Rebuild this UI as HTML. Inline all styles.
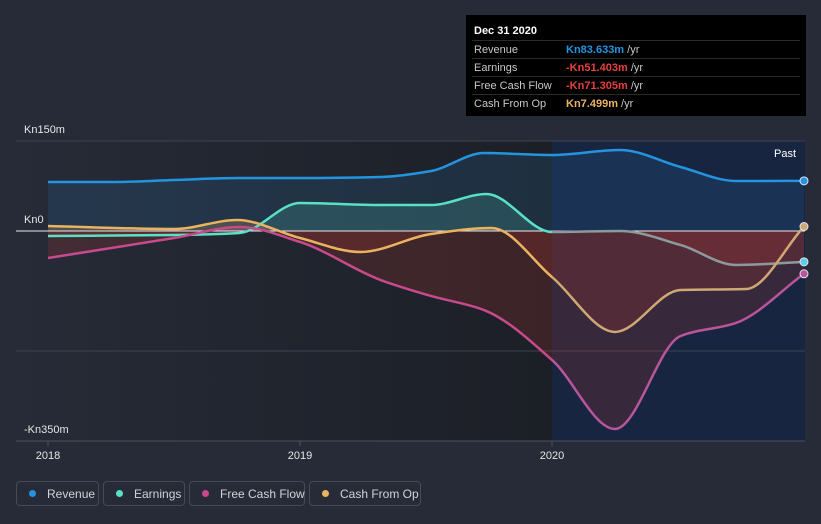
<!DOCTYPE html>
<html><head><meta charset="utf-8"><style>
body{margin:0;background:#262b37;width:821px;height:524px;overflow:hidden;font-family:"Liberation Sans",sans-serif}
svg{position:absolute;left:0;top:0}
.tt{position:absolute;left:466px;top:15px;width:340px;height:101px;background:#000;color:#c8c8c8;font-size:11px}
.tt .h{color:#fff;font-weight:bold;font-size:11px;padding:10px 0 0 8px;height:15px}
.tt .r{display:flex;height:17px;align-items:center;border-top:1px solid #2a2a2a;margin:0 6px 0 6px;padding-left:2px}
.tt .r span:first-child{width:92px}
.tt b{font-weight:bold}
.leg{position:absolute;top:481px;height:25px;border:1px solid #444b58;border-radius:4px;color:#d0d4da;font-size:12px;display:flex;align-items:center;box-sizing:border-box;padding-left:12px;white-space:nowrap}
.leg i{display:inline-block;width:7px;height:7px;border-radius:50%;margin-right:11px;flex:none}
</style></head><body>
<svg width="821" height="524">
<defs>
<clipPath id="above"><rect x="0" y="0" width="821" height="231"/></clipPath>
<clipPath id="below"><rect x="0" y="231" width="821" height="300"/></clipPath>
<clipPath id="pre"><rect x="0" y="0" width="552" height="524"/></clipPath>
<clipPath id="post"><rect x="552" y="0" width="300" height="524"/></clipPath>
<linearGradient id="bg" x1="0" x2="1"><stop offset="0" stop-color="#262b37"/><stop offset="1" stop-color="#1c1f26"/></linearGradient>
</defs>
<rect x="16" y="141" width="536" height="300" fill="url(#bg)"/>
<rect x="552" y="141" width="253" height="300" fill="#172540"/>
<g id="grid"></g>
<g id="series"></g>
<text x="774" y="157" fill="#fff" font-size="11">Past</text>
</svg>
<div class="tt">
<div class="h">Dec 31 2020</div>
<div class="r"><span>Revenue</span><span><b style="color:#2394df">Kn83.633m</b> /yr</span></div>
<div class="r"><span>Earnings</span><span><b style="color:#e5413f">-Kn51.403m</b> /yr</span></div>
<div class="r"><span>Free Cash Flow</span><span><b style="color:#e5413f">-Kn71.305m</b> /yr</span></div>
<div class="r"><span>Cash From Op</span><span><b style="color:#e9b35f">Kn7.499m</b> /yr</span></div>
</div>
<div class="leg" style="left:16px;width:83px"><i style="background:#2394df"></i>Revenue</div>
<div class="leg" style="left:103px;width:82px"><i style="background:#58e1c6"></i>Earnings</div>
<div class="leg" style="left:189px;width:116px"><i style="background:#c84a8c"></i>Free Cash Flow</div>
<div class="leg" style="left:309px;width:112px"><i style="background:#e9b35f"></i>Cash From Op</div>
<script>
const yTicks=[150,0,-350];
const yTickLabels=["Kn150m","Kn0","-Kn350m"];
const xTicks=[2018,2019,2020];
const revT=[2018,2018.26,2018.5,2018.76,2019,2019.32,2019.52,2019.73,2020,2020.27,2020.51,2020.73,2021];
const revV=[81.7,81.7,85,88.3,88.3,90,100,130,126.7,135,106.7,83.3,83.6];
const earnT=[2018,2018.5,2018.76,2019,2019.32,2019.52,2019.74,2020,2020.27,2020.51,2020.73,2021];
const earnV=[-8.3,-6.7,-3.3,46.7,43.3,43.3,61.7,-1.7,0,-23.3,-56.7,-51.4];
const fcfT=[2018,2018.5,2018.76,2019,2019.32,2019.52,2019.73,2020,2020.25,2020.51,2020.73,2021];
const fcfV=[-45,-11.7,6.7,-18.3,-81.7,-108.3,-131.7,-215,-330,-175,-153.3,-71.3];
const cfoT=[2018,2018.5,2018.75,2019,2019.24,2019.52,2019.76,2020,2020.25,2020.51,2020.77,2021];
const cfoV=[8.3,3.3,18.3,-11.7,-35,-5,5,-76.7,-168.3,-98.3,-96.7,7.5];
const X=t=>48+252*(t-2018), Y=v=>231-0.6*v;
const NS="http://www.w3.org/2000/svg";
function el(tag,a,p){const e=document.createElementNS(NS,tag);for(const k in a)e.setAttribute(k,a[k]);p.appendChild(e);return e;}
function mono(xs,ys){const n=xs.length,d=[],m=[];for(let i=0;i<n-1;i++)d.push((ys[i+1]-ys[i])/(xs[i+1]-xs[i]));
m[0]=d[0];m[n-1]=d[n-2];for(let i=1;i<n-1;i++){m[i]=d[i-1]*d[i]<=0?0:3*(xs[i+1]-xs[i-1])/((2*xs[i+1]-xs[i]-xs[i-1])/d[i-1]+(xs[i+1]+xs[i]-2*xs[i-1])/d[i]);}
let s="M"+xs[0]+","+ys[0];for(let i=0;i<n-1;i++){const h=(xs[i+1]-xs[i])/3;s+="C"+(xs[i]+h)+","+(ys[i]+m[i]*h)+" "+(xs[i+1]-h)+","+(ys[i+1]-m[i+1]*h)+" "+xs[i+1]+","+ys[i+1];}return s;}
const grid=document.getElementById('grid'),g=document.getElementById('series');
[150,-200].forEach(v=>{const l=el('line',{x1:16,x2:805,y1:Y(v),y2:Y(v),stroke:'#3c4250','stroke-width':1},grid);
});
el('line',{x1:16,x2:805,y1:441,y2:441,stroke:'#4a505c'},grid);
yTicks.forEach((v,i)=>{const t=el('text',{x:24,y:Y(v)-8,fill:'#e6e6e6','font-size':11},grid);t.textContent=yTickLabels[i];
});
xTicks.forEach(v=>{el('line',{x1:X(v),x2:X(v),y1:441,y2:446,stroke:'#4a505c'},grid);
const t=el('text',{x:X(v),y:459,fill:'#e6e6e6','font-size':11,'text-anchor':'middle'},grid);t.textContent=String(v);
});
const S=[
 {n:'revenue',t:revT,v:revV,c:'#2394df',c2:'#2394df',f:'#2a6aa0',pc:'#2394df'},
 {n:'earnings',t:earnT,v:earnV,c:'#58e1c6',c2:'#8c9a9c',f:'#4fb8a8',pc:'#58d0e0'},
 {n:'free-cash-flow',t:fcfT,v:fcfV,c:'#c84a8c',c2:'#b9559a',f:'#c84a8c',pc:'#b9559a'},
 {n:'cash-from-op',t:cfoT,v:cfoV,c:'#e9b35f',c2:'#cfa874',f:'#e9b35f',pc:'#cfa874'}];
S.forEach(s=>{const xs=s.t.map(X),ys=s.v.map(Y);const d=mono(xs,ys);
 const area=d+"L"+xs[xs.length-1]+",231L"+xs[0]+",231Z";
 const a1=el('path',{d:area,fill:s.f,'fill-opacity':0.22,'clip-path':'url(#above)'},g);
 
 const a2=el('path',{d:area,fill:'#c0392b','fill-opacity':0.2,'clip-path':'url(#below)'},g);
 
});
el('line',{x1:16,x2:805,y1:231,y2:231,stroke:'#e8e8e8','stroke-width':1},g);
S.forEach(s=>{const xs=s.t.map(X),ys=s.v.map(Y);const d=mono(xs,ys);
 const l=el('path',{d:d,fill:'none',stroke:s.c,'stroke-width':2.5,'clip-path':'url(#pre)'},g);
 
 const l2=el('path',{d:d,fill:'none',stroke:s.c2,'stroke-width':2.5,'clip-path':'url(#post)'},g);
 
 const p=el('circle',{cx:xs[xs.length-1],cy:ys[ys.length-1],r:4,fill:s.pc,stroke:'#dfe6ee','stroke-width':1},g);
 
});
</script>
</body></html>
